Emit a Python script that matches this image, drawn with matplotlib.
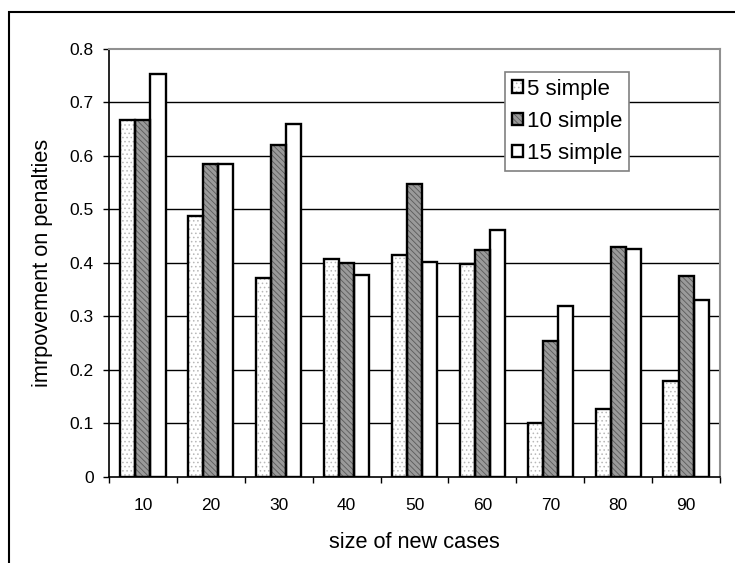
import numpy as np
import matplotlib
matplotlib.use("Agg")
import matplotlib.pyplot as plt
from matplotlib.patches import Rectangle, Patch
from matplotlib.legend_handler import HandlerTuple

plt.rcParams['font.family'] = ['Liberation Sans', 'DejaVu Sans']
plt.rcParams['hatch.linewidth'] = 0.6

# data
sizes = ['10', '20', '30', '40', '50', '60', '70', '80', '90']
series = ['5 simple', '10 simple', '15 simple']
simple5 = [0.667, 0.487, 0.371, 0.407, 0.414, 0.397, 0.100, 0.126, 0.179]
simple10 = [0.667, 0.584, 0.621, 0.399, 0.547, 0.424, 0.254, 0.430, 0.375]
simple15 = [0.754, 0.584, 0.660, 0.377, 0.402, 0.461, 0.319, 0.425, 0.330]

fig = plt.figure(figsize=(7.35, 5.63), dpi=100)
ax = fig.add_axes([109 / 735, 1 - 476.7 / 563, 611 / 735, 427.7 / 563])

# outer frame (only left and top visible in the original)
fig.patches.append(Rectangle((9 / 735, -0.1), 1.2, 1 - 12 / 563 + 0.1,
                             transform=fig.transFigure, fill=False,
                             edgecolor='black', linewidth=1.5))

x = np.arange(len(sizes))
w = 0.222
styles = [
    dict(facecolor='white', hatch='....', hatchcol='#b8b8b8'),
    dict(facecolor='#9a9a9a', hatch='\\\\\\\\\\\\', hatchcol='#5a5a5a'),
    dict(facecolor='white', hatch=None, hatchcol='white'),
]
handles = []
for i, (vals, st) in enumerate(zip([simple5, simple10, simple15], styles)):
    pos = x + (i - 1) * w
    ax.bar(pos, vals, w, facecolor=st['facecolor'], edgecolor=st['hatchcol'],
           hatch=st['hatch'], linewidth=0, zorder=3)
    ax.bar(pos, vals, w, facecolor='none', edgecolor='black', linewidth=1.7,
           zorder=4)
    h1 = Patch(facecolor=st['facecolor'], edgecolor=st['hatchcol'],
               hatch=st['hatch'], linewidth=0)
    h2 = Patch(facecolor='none', edgecolor='black', linewidth=1.7)
    handles.append((h1, h2))

ax.set_xlim(-0.5, len(sizes) - 0.5)
ax.set_ylim(0, 0.8)
ax.set_yticks(np.arange(0, 0.81, 0.1))
ax.set_yticklabels(['0', '0.1', '0.2', '0.3', '0.4', '0.5', '0.6', '0.7', '0.8'])
ax.set_xticks(np.arange(-0.5, len(sizes), 1.0))
ax.set_xticklabels([])
ax.set_xticks(x, minor=True)
ax.set_xticklabels(sizes, minor=True)
ax.tick_params(axis='x', which='minor', length=0, pad=15, labelsize=12.5)
ax.tick_params(axis='x', which='major', length=4.3, width=1, direction='out')
ax.tick_params(axis='y', length=4.3, width=1, direction='out', pad=6.5,
               labelsize=12.5)

for v in np.arange(0.1, 0.75, 0.1):
    ax.axhline(v, color='black', linewidth=1.0, zorder=1)

for s in ['top', 'right']:
    ax.spines[s].set_color('#909090')
    ax.spines[s].set_linewidth(1.5)
for s in ['left', 'bottom']:
    ax.spines[s].set_color('black')
    ax.spines[s].set_linewidth(1.2)

ax.set_xlabel('size of new cases', fontsize=15.7, labelpad=14)
ax.set_ylabel('imrpovement on penalties', fontsize=15.7, labelpad=12)

leg = ax.legend(handles, series, handler_map={tuple: HandlerTuple(ndivide=1)},
                loc='upper left', bbox_to_anchor=(396 / 611, 1 - 23 / 427.7),
                fontsize=16, frameon=True, fancybox=False, framealpha=1,
                edgecolor='#808080', handlelength=0.5, handleheight=0.5,
                handletextpad=0.2, labelspacing=0.5, borderpad=0.3,
                borderaxespad=0)
leg.get_frame().set_linewidth(1.2)
leg.set_zorder(6)

fig.savefig('out.png', dpi=100)
